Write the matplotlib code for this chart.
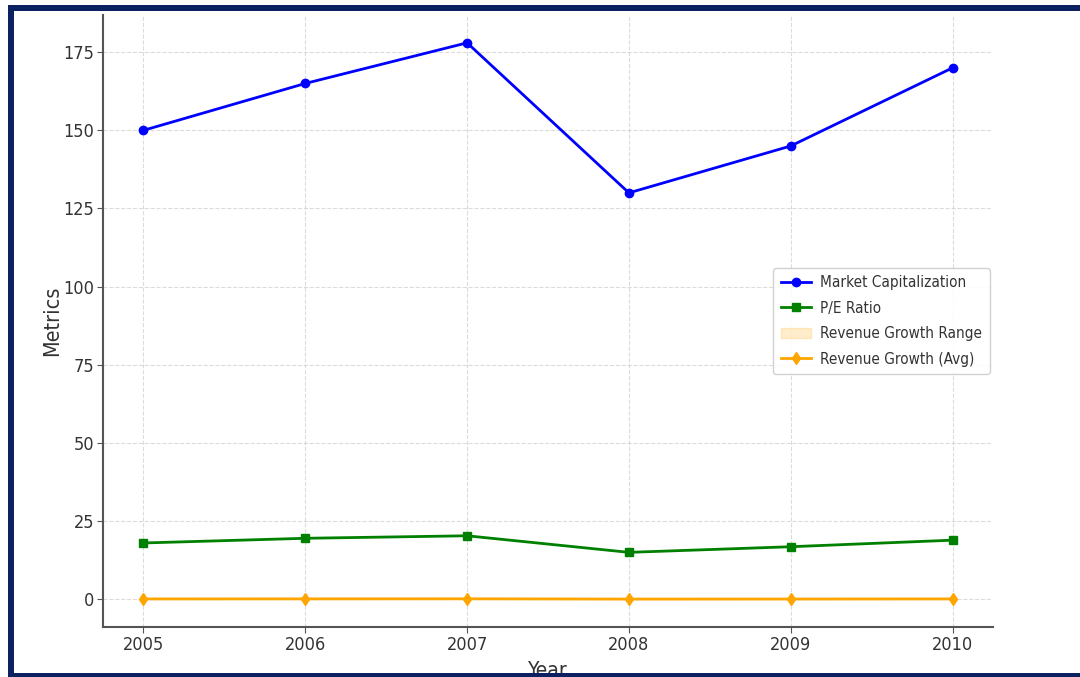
import matplotlib
matplotlib.use("Agg")
import matplotlib.pyplot as plt
from matplotlib.patches import Rectangle

years = [2005, 2006, 2007, 2008, 2009, 2010]
market_cap = [150, 165, 178, 130, 145, 170]
pe_ratio = [18.0, 19.5, 20.3, 15.0, 16.8, 18.9]
rev_growth_low = [0.05, 0.06, 0.08, 0.02, 0.03, 0.05]
rev_growth_high = [0.15, 0.18, 0.20, 0.10, 0.12, 0.16]
rev_growth_avg = [0.10, 0.12, 0.14, 0.06, 0.075, 0.105]

plt.rcParams['font.family'] = ['DejaVu Sans']
plt.rcParams['font.stretch'] = 'condensed'

W, H = 1080, 677
fig = plt.figure(figsize=(W / 100, H / 100), dpi=100)
ax = fig.add_axes([103 / W, 1 - 627 / H, 890 / W, 612 / H])

ax.plot(years, market_cap, color='blue', marker='o', markersize=6, linewidth=2,
        label='Market Capitalization')
ax.plot(years, pe_ratio, color='green', marker='s', markersize=6, linewidth=2,
        label='P/E Ratio')
ax.fill_between(years, rev_growth_low, rev_growth_high, color='orange', alpha=0.2,
                label='Revenue Growth Range')
ax.plot(years, rev_growth_avg, color='orange', marker='d', markersize=6, linewidth=2,
        label='Revenue Growth (Avg)')

ax.set_xticks(years)
ax.set_yticks([0, 25, 50, 75, 100, 125, 150, 175])
ax.grid(True, linestyle='--', color='#cccccc', alpha=0.7, linewidth=0.8)
for side in ('top', 'right'):
    ax.spines[side].set_visible(False)
for side in ('left', 'bottom'):
    ax.spines[side].set_color('#555555')
    ax.spines[side].set_linewidth(1.5)
ax.tick_params(colors='#555555', labelcolor='#333333', labelsize=13, length=4, pad=2.5)
ax.set_xlabel('Year', fontsize=15, color='#333333', labelpad=5)
ax.set_ylabel('Metrics', fontsize=15.5, color='#333333', labelpad=0.5)
ax.legend(loc='center right', fontsize=11, framealpha=0.9, edgecolor='#cccccc',
          labelcolor='#333333', borderaxespad=0.2, labelspacing=0.68,
          handletextpad=0.6, borderpad=0.5)

# page frame
navy = '#0b2160'
def bar(x0, y0, x1, y1):
    fig.patches.append(Rectangle((x0 / W, 1 - y1 / H), (x1 - x0) / W, (y1 - y0) / H,
                                 transform=fig.transFigure, facecolor=navy,
                                 edgecolor='none', zorder=10))
bar(8, 5, W, 11)
bar(8, 5, 14, H)
bar(8, 673, W, H)

fig.savefig('out.png', dpi=100)
